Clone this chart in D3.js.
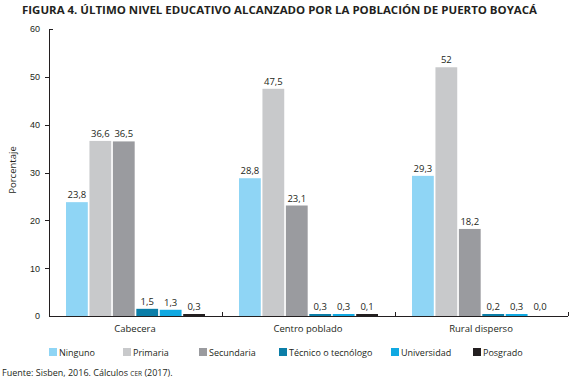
<!DOCTYPE html>
<html>
<head>
<meta charset="utf-8">
<title>Figura 4</title>
<script src="https://cdn.jsdelivr.net/npm/d3@7/dist/d3.min.js"></script>
<style>
body { margin: 0; background: #fff; }
text { font-family: "Open Sans", "Liberation Sans", sans-serif; fill: #231f20; }
.axis path, .axis line { stroke: #231f20; shape-rendering: crispEdges; }
</style>
</head>
<body>
<script>
// data
var zonas = ["Cabecera", "Centro poblado", "Rural disperso"];
var niveles = ["Ninguno", "Primaria", "Secundaria", "Técnico o tecnólogo", "Universidad", "Posgrado"];
var colores = ["#8fd5f5", "#c8c9cb", "#9a9b9f", "#0b7ea8", "#10a9e2", "#231f20"];
var ninguno     = [23.8, 28.8, 29.3];
var primaria    = [36.6, 47.5, 52];
var secundaria  = [36.5, 23.1, 18.2];
var tecnico     = [1.5, 0.3, 0.2];
var universidad = [1.3, 0.3, 0.3];
var posgrado    = [0.3, 0.1, 0.0];
var yTicks = [0, 10, 20, 30, 40, 50, 60];

var series = [ninguno, primaria, secundaria, tecnico, universidad, posgrado];

var W = 573, H = 383;
// note: don't call these "top" -- clashes with window.top
var mLeft = 49, mRight = 568, mTop = 29, mBottom = 316;

var svg = d3.select("body").append("svg")
    .attr("width", W)
    .attr("height", H);

// title
svg.append("text")
    .attr("x", 22)
    .attr("y", 14)
    .attr("textLength", 515)
    .attr("lengthAdjust", "spacingAndGlyphs")
    .style("font-size", "11px")
    .style("font-weight", "bold")
    .text("FIGURA 4. ÚLTIMO NIVEL EDUCATIVO ALCANZADO POR LA POBLACIÓN DE PUERTO BOYACÁ");

var y = d3.scaleLinear().domain([0, 60]).range([mBottom, mTop]);
var x0 = d3.scaleBand().domain(zonas).range([mLeft, mRight]);
var x1 = d3.scaleBand().domain(niveles).range([17, 156]).paddingInner(0.07);

// y axis
var yAxis = svg.append("g")
    .attr("class", "axis")
    .attr("transform", "translate(" + mLeft + ",0)")
    .call(d3.axisLeft(y).tickValues(yTicks).tickSize(4).tickPadding(5));
yAxis.select(".domain").remove();
yAxis.append("line")
    .attr("x1", 0).attr("x2", 0)
    .attr("y1", y(60)).attr("y2", y(0));
yAxis.selectAll(".tick text")
    .style("font-size", "9px")
    .style("font-family", "'Liberation Sans', sans-serif")
    .attr("fill", "#231f20");
// top tick points inward in the original
yAxis.selectAll(".tick line")
    .attr("x2", function(d) { return d == 60 ? 4 : (d == 0 ? 0 : -4); });

svg.append("text")
    .attr("transform", "translate(16," + 170 + ") rotate(-90)")
    .style("text-anchor", "middle")
    .style("font-size", "9.5px")
    .text("Porcentaje");

// x axis
var xg = svg.append("g").attr("class", "axis");
xg.append("line")
    .attr("x1", mLeft).attr("x2", mRight)
    .attr("y1", mBottom).attr("y2", mBottom);
xg.selectAll(".sep")
    .data(zonas)
    .enter().append("line")
    .attr("class", "sep")
    .attr("x1", function(d) { return x0(d) + x0.bandwidth(); })
    .attr("x2", function(d) { return x0(d) + x0.bandwidth(); })
    .attr("y1", mBottom)
    .attr("y2", mBottom - 4);
svg.selectAll(".cat")
    .data(zonas)
    .enter().append("text")
    .attr("class", "cat")
    .attr("x", function(d) { return x0(d) + 17 + 69; })
    .attr("y", 332)
    .style("text-anchor", "middle")
    .style("font-size", "9.5px")
    .text(function(d) { return d; });

// bars
function fmt(v) {
    if (v % 1 === 0 && v > 10) return String(v);
    return v.toFixed(1).replace(".", ",");
}
// tiny (non-zero) values still get a visible sliver
function barTop(v) {
    if (v <= 0) return mBottom;
    return Math.min(y(v), mBottom - 2);
}

var groups = svg.selectAll(".grupo")
    .data(zonas)
    .enter().append("g")
    .attr("class", "grupo")
    .attr("transform", function(d) { return "translate(" + x0(d) + ",0)"; });

groups.each(function(z, zi) {
    var g = d3.select(this);
    var rows = niveles.map(function(n, ni) { return {nivel: n, value: series[ni][zi], color: colores[ni]}; });
    g.selectAll("rect")
        .data(rows)
        .enter().append("rect")
        .attr("x", function(d) { return x1(d.nivel); })
        .attr("width", x1.bandwidth())
        .attr("y", function(d) { return barTop(d.value); })
        .attr("height", function(d) { return mBottom - barTop(d.value); })
        .style("fill", function(d) { return d.color; });
    g.selectAll(".val")
        .data(rows)
        .enter().append("text")
        .attr("class", "val")
        .attr("x", function(d) { return x1(d.nivel) + x1.bandwidth() / 2; })
        .attr("y", function(d) { return Math.min(barTop(d.value), mBottom - 2) - 4; })
        .style("text-anchor", "middle")
        .style("font-size", "9.5px")
        .text(function(d) { return fmt(d.value); });
});

// legend
var legX = [49, 123, 199, 279, 391, 473];
var legend = svg.selectAll(".legend")
    .data(niveles)
    .enter().append("g")
    .attr("class", "legend")
    .attr("transform", function(d, i) { return "translate(" + legX[i] + ",348)"; });
legend.append("rect")
    .attr("width", 8)
    .attr("height", 8)
    .style("fill", function(d, i) { return colores[i]; });
legend.append("text")
    .attr("x", 10)
    .attr("y", 7.5)
    .style("font-size", "9px")
    .text(function(d) { return d; });

// source note
var src = svg.append("text")
    .attr("x", 2)
    .attr("y", 376)
    .style("font-size", "9px");
src.append("tspan").text("Fuente: Sisben, 2016. Cálculos ");
src.append("tspan").style("font-size", "6.5px").text("CER");
src.append("tspan").text(" (2017).");
</script>
</body>
</html>
